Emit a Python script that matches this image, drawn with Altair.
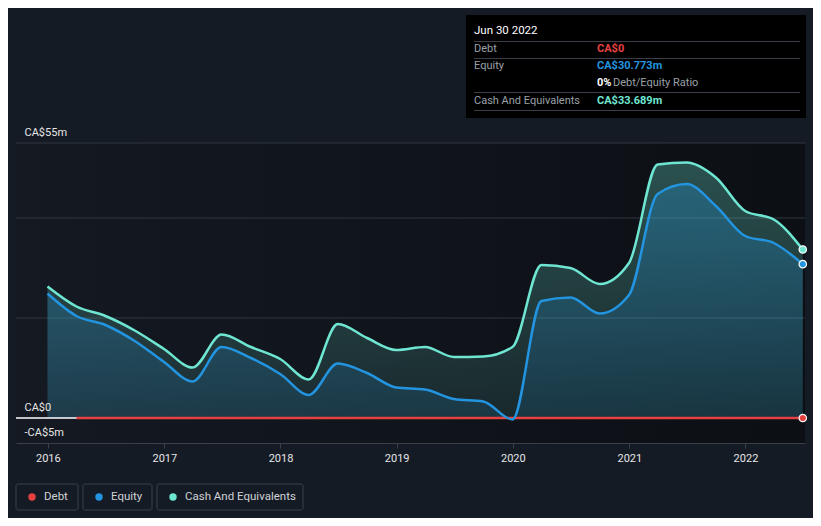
import altair as alt
import pandas as pd

# ---------------- data ----------------
quarter_ends = pd.date_range("2015-12-31", "2022-06-30", freq="QE")
cash = [26.3, 22.3, 20.4, 17.5, 13.8, 10.1, 16.7, 14.2, 11.8, 7.7, 18.8, 16.0, 13.6,
        14.2, 12.2, 12.3, 14.2, 30.6, 30.0, 26.8, 31.0, 50.7, 51.1, 48.1, 41.4, 39.7, 33.689]
equity = [24.9, 20.4, 18.6, 15.4, 11.2, 7.3, 14.2, 12.0, 8.8, 4.6, 10.9, 9.0, 6.1,
          5.7, 3.8, 3.3, -0.3, 23.4, 24.1, 20.9, 24.6, 44.8, 46.8, 42.4, 36.4, 35.0, 30.773]
debt_dates = quarter_ends[1:]
debt = [0.0] * len(debt_dates)

grid_values = [20, 40, 55]
y_label_values = [-5, 0, 55]
year_ticks = list(range(2016, 2023))

legend_items = ["Debt", "Equity", "Cash And Equivalents"]
tip_title = "Jun 30 2022"
tip_labels = ["Debt", "Equity", "Cash And Equivalents"]
tip_values = ["CA$0", "CA$30.773m", "CA$33.689m"]

C_DEBT = "#e64141"
C_EQ = "#2394df"
C_CASH = "#6ee6d2"
BG = "#151b25"
FONT = "Roboto"

W, H = 789, 300

df = pd.DataFrame({"date": quarter_ends, "cash": cash, "equity": equity})
ddf = pd.DataFrame({"date": debt_dates, "debt": debt})
last = df.tail(1)
dlast = ddf.tail(1)

xscale = alt.Scale(domain=[alt.DateTime(year=2015, month=9, date=23),
                           alt.DateTime(year=2022, month=7, date=7)])
yscale = alt.Scale(domain=[-5, 55], nice=False, zero=False)

xaxis = alt.Axis(values=[alt.DateTime(year=y, month=1, date=1) for y in year_ticks],
                 format="%Y", grid=False, domainColor="#3a404a", tickColor="#3a404a",
                 tickSize=5, labelPadding=4, labelColor="#e6e6e6", labelFontSize=11,
                 labelFont=FONT, title=None, zindex=1)
label_expr = ("datum.value == 55 ? 'CA$55m' : datum.value == 0 ? 'CA$0' : "
              "datum.value == -5 ? '-CA$5m' : ''")
yaxis = alt.Axis(values=y_label_values, labelExpr=label_expr, grid=False,
                 domain=False, ticks=False, tickSize=0, labelPadding=-8,
                 labelAlign="left", labelBaseline="alphabetic", labelOffset=-8,
                 labelOverlap=False, labelBound=False,
                 labelColor="#e6e6e6", labelFontSize=11, labelFont=FONT, title=None,
                 zindex=1)


def X():
    return alt.X("date:T", scale=xscale, axis=xaxis, title=None)


def Y(f):
    return alt.Y(f, scale=yscale, axis=yaxis, title=None)


one = alt.Data(values=[{"a": 1}])

# background gradient of the plot area
bg = alt.Chart(one).mark_rect(
    fill=alt.Gradient(gradient="linear", x1=0, x2=1, y1=0, y2=0,
                      stops=[alt.GradientStop(color="#141922", offset=0),
                             alt.GradientStop(color="#0c0f14", offset=1)])
).encode(x=alt.value(0), x2=alt.value(W), y=alt.value(0), y2=alt.value(H))

grid = alt.Chart(pd.DataFrame({"v": grid_values})).mark_rule(
    color="#30363f", strokeWidth=1
).encode(y=Y("v:Q"))

zero = alt.Chart(pd.DataFrame({"v": [0]})).mark_rule(color="#ffffff", strokeWidth=1.5).encode(
    y=Y("v:Q"))

cash_area = alt.Chart(df).mark_area(
    interpolate="monotone",
    color=alt.Gradient(gradient="linear", x1=1, x2=1, y1=0, y2=1,
                       stops=[alt.GradientStop(color="rgba(110,230,210,0.30)", offset=0),
                              alt.GradientStop(color="rgba(110,230,210,0.10)", offset=1)])
).encode(x=X(), y=Y("cash:Q"), y2=alt.datum(0))

eq_area = alt.Chart(df).mark_area(
    interpolate="monotone",
    color=alt.Gradient(gradient="linear", x1=1, x2=1, y1=0, y2=1,
                       stops=[alt.GradientStop(color="rgba(35,148,223,0.30)", offset=0),
                              alt.GradientStop(color="rgba(35,148,223,0.13)", offset=1)])
).encode(x=X(), y=Y("equity:Q"), y2=alt.datum(0))

cash_line = alt.Chart(df).mark_line(interpolate="monotone", color=C_CASH, strokeWidth=2.5).encode(
    x=X(), y=Y("cash:Q"))
eq_line = alt.Chart(df).mark_line(interpolate="monotone", color=C_EQ, strokeWidth=2.5).encode(
    x=X(), y=Y("equity:Q"))
debt_line = alt.Chart(ddf).mark_line(color=C_DEBT, strokeWidth=2.5).encode(
    x=X(), y=Y("debt:Q"))

pt_kw = dict(size=55, opacity=1, stroke="#ffffff", strokeWidth=1.2)
cash_pt = alt.Chart(last).mark_circle(color=C_CASH, **pt_kw).encode(x=X(), y=Y("cash:Q"))
eq_pt = alt.Chart(last).mark_circle(color=C_EQ, **pt_kw).encode(x=X(), y=Y("equity:Q"))
debt_pt = alt.Chart(dlast).mark_circle(color=C_DEBT, **pt_kw).encode(x=X(), y=Y("debt:Q"))


def txt(s, x, y, color, size=11, weight="normal", align="left"):
    return alt.Chart(one).mark_text(text=s, color=color, fontSize=size, fontWeight=weight,
                                    align=align, baseline="middle", font=FONT).encode(
        x=alt.value(x), y=alt.value(y))


def rule(x1, x2, y, color="#3a3f47"):
    return alt.Chart(one).mark_rule(color=color, strokeWidth=1).encode(
        x=alt.value(x1), x2=alt.value(x2), y=alt.value(y))


# tooltip box
tip_box = alt.Chart(one).mark_rect(fill="#000000").encode(
    x=alt.value(450), x2=alt.value(790), y=alt.value(-128), y2=alt.value(-25))
tip = [tip_box,
       txt(tip_title, 458, -112, "#ffffff", size=11.5),
       rule(458, 784, -101.5), rule(458, 784, -84.5), rule(458, 784, -50.5), rule(458, 784, -32.5),
       txt(tip_labels[0], 458, -94, "#9aa0a8"),
       txt(tip_values[0], 581, -94, C_DEBT, weight="bold"),
       txt(tip_labels[1], 458, -77, "#9aa0a8"),
       txt(tip_values[1], 581, -77, C_EQ, weight="bold"),
       txt("0%", 581, -60, "#ffffff", weight="bold"),
       txt("Debt/Equity Ratio", 597, -60, "#9aa0a8"),
       txt(tip_labels[2], 458, -42, "#9aa0a8"),
       txt(tip_values[2], 581, -42, C_CASH, weight="bold")]

# legend
legend_layers = []
boxes = [(0, 62), (67, 136), (141, 287)]
dots = [16, 83, 157]
texts = [28, 95, 169]
cols = [C_DEBT, C_EQ, C_CASH]
for (bx1, bx2), dx, tx, c, name in zip(boxes, dots, texts, cols, legend_items):
    legend_layers.append(alt.Chart(one).mark_rect(
        fill=BG, stroke="#3b414b", strokeWidth=1, cornerRadius=2).encode(
        x=alt.value(bx1), x2=alt.value(bx2), y=alt.value(341), y2=alt.value(367)))
    legend_layers.append(alt.Chart(one).mark_circle(color=c, size=55, opacity=1).encode(
        x=alt.value(dx), y=alt.value(354)))
    legend_layers.append(txt(name, tx, 354, "#cfd2d6", size=11.5))

chart = alt.layer(
    bg, grid, cash_area, eq_area, zero, debt_line, cash_line, eq_line,
    cash_pt, eq_pt, debt_pt, *tip, *legend_layers
).properties(
    width=W, height=H,
    autosize=alt.AutoSizeParams(type="none"),
    padding={"left": 8, "top": 135, "right": 8, "bottom": 75},
    background=BG,
).configure_view(stroke=None)

chart.save("out.html", embed_options={"renderer": "svg", "actions": False})
